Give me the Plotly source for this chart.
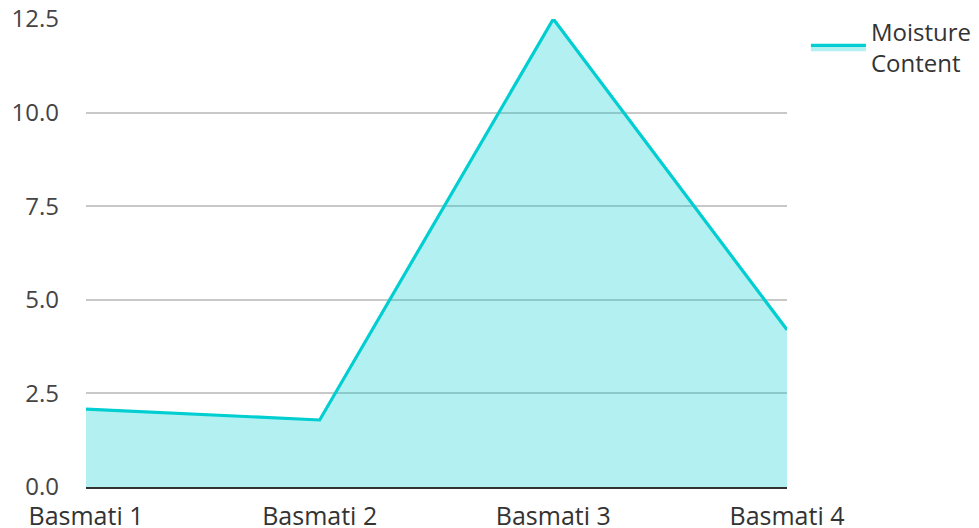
import plotly.graph_objects as go

categories = ["Basmati 1", "Basmati 2", "Basmati 3", "Basmati 4"]
moisture = [2.08, 1.79, 12.5, 4.2]
series_name = "Moisture<br>Content"
y_ticks = [0, 2.5, 5, 7.5, 10, 12.5]
y_tick_labels = ["0.0", "2.5", "5.0", "7.5", "10.0", "12.5"]

fig = go.Figure()
fig.add_trace(go.Scatter(
    x=categories, y=moisture, name=series_name, mode="lines",
    line=dict(color="#00CED1", width=3.2),
    fill="tozeroy", fillcolor="rgba(0,206,209,0.3)",
))

fig.update_layout(
    width=979, height=528,
    margin=dict(l=78, r=200, t=11, b=49, autoexpand=False),
    paper_bgcolor="white", plot_bgcolor="white",
    font=dict(family="Open Sans", size=24, color="#333333"),
    showlegend=True,
    legend=dict(x=1.027, y=1.02, xanchor="left", yanchor="top", itemwidth=55,
                font=dict(size=24, color="#333333"), bgcolor="rgba(0,0,0,0)"),
    xaxis=dict(type="category", range=[0, 3], showgrid=False, automargin=False,
               showline=True, linecolor="#333333", linewidth=2,
               ticks="", ticklabelstandoff=6, ticklabeloverflow="allow",
               tickfont=dict(size=25, color="#333333")),
    yaxis=dict(range=[0, 12.5], tickvals=y_ticks, ticktext=y_tick_labels,
               automargin=False, ticklabeloverflow="allow",
               showgrid=True, gridcolor="#c8c8c8", gridwidth=1.5,
               zeroline=False, showline=False, ticks="", ticklabelstandoff=26,
               tickfont=dict(size=24, color="#444444")),
)

fig.write_html("out.html")
